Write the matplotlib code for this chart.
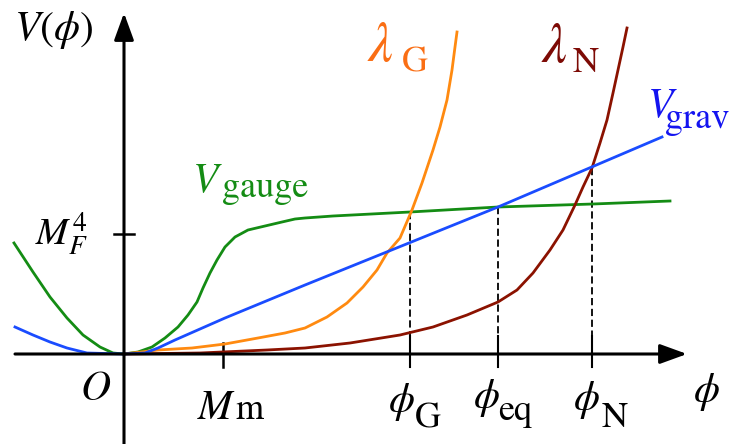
import numpy as np
import matplotlib
matplotlib.use('Agg')
import matplotlib.pyplot as plt

plt.rcParams['mathtext.fontset'] = 'stix'
plt.rcParams['font.family'] = 'STIXGeneral'

# curves (phi, V), arbitrary units
gauge_x = [-110, -91, -74, -57, -41, -24, -11, 0, 14, 28, 41, 54, 64, 73, 79, 86, 93, 101, 111, 124, 141,
           158, 171, 181, 209, 286, 374, 469, 546]
gauge_y = [111, 82, 57, 36, 19, 7, 1, 0, 2, 7, 16, 27, 39, 52, 66, 81, 94, 107, 117, 124, 128,
           132, 135, 136, 138, 142, 147, 150, 153]

grav_x = [-109, -91, -74, -57, -37, 0, 21, 34, 51, 101, 181, 374, 538]
grav_y = [27, 19, 12, 6, 1, 0, 1, 6, 14, 36, 69, 147, 217]

lamG_x = [0, 34, 68, 101, 134, 161, 181, 203, 223, 239, 253, 263, 276, 288, 298, 309, 316, 323, 328, 331, 333]
lamG_y = [0, 4, 6, 10, 16, 21, 26, 37, 51, 67, 84, 101, 116, 144, 171, 204, 227, 254, 284, 307, 322]

lamN_x = [0, 76, 143, 181, 226, 276, 309, 343, 374, 393, 409, 426, 439, 451, 459, 468, 476, 483, 489, 494, 499, 503]
lamN_y = [0, 1, 4, 6, 11, 19, 27, 39, 52, 64, 81, 104, 124, 149, 167, 186, 211, 234, 261, 284, 307, 326]

# special points
phi_pts = [286, 374, 468]
phi_vals = [142, 147, 186]
MF4 = 120
Mm = 99

c_green = '#148c14'
c_blue = '#1a4cff'
c_orange = '#ff8a10'
c_red = '#8b1200'

fig = plt.figure(figsize=(7.3, 4.44), dpi=100)
ax = fig.add_axes([0, 0, 1, 1])
ax.set_xlim(-124, 606)
ax.set_ylim(-90, 354)
ax.axis('off')

# axes with arrows
arr = dict(arrowstyle='-|>,head_length=0.55,head_width=0.2', lw=2.2, color='k',
           mutation_scale=30, shrinkA=0, shrinkB=0)
ax.annotate('', xy=(563, 0), xytext=(-109, 0), arrowprops=arr)
ax.annotate('', xy=(0, 341), xytext=(0, -90), arrowprops=arr)

# ticks
ax.plot([-10, 10], [MF4, MF4], color='k', lw=1.8)
ax.plot([Mm, Mm], [11, -13], color='k', lw=1.8)

# dashed guides
for xp, yp in zip(phi_pts, phi_vals):
    ax.plot([xp, xp], [yp, 18], color='k', lw=1.3, dashes=(4, 2))
    ax.plot([xp, xp], [18, -13], color='k', lw=1.5)

ax.plot(gauge_x, gauge_y, color=c_green, lw=2.0, solid_joinstyle='round')
ax.plot(lamN_x, lamN_y, color=c_red, lw=2.0, solid_joinstyle='round')
ax.plot(lamG_x, lamG_y, color=c_orange, lw=2.0, solid_joinstyle='round')
ax.plot(grav_x, grav_y, color=c_blue, lw=2.0, solid_joinstyle='round')

fs = 30
fsub = 26


def label(base, bx, by, sub, sx, sy, color='k', bsize=fs):
    ax.text(bx, by, base, fontsize=bsize, va='baseline', color=color)
    ax.text(sx, sy, sub, fontsize=fsub, va='baseline', color=color)


ax.text(-110, 314, r'$V(\phi)$', fontsize=fs, va='baseline')
ax.text(-89, 109, r'$M_F^4$', fontsize=28, va='baseline')
label(r'$V$', 68, 162, 'gauge', 98, 157, c_green)
label(r'$\lambda$', 243, 293, 'G', 278, 282, '#fa6e14', bsize=40)
label(r'$\lambda$', 417, 292, 'N', 449, 282, '#7d0a05', bsize=40)
label(r'$V$', 523, 237, 'grav', 541, 226, '#1414f0')
ax.text(-44, -46, r'$O$', fontsize=fs, va='baseline')
label(r'$M$', 73, -65, 'm', 111, -65)
label(r'$\phi$', 264, -58, 'G', 291, -73)
label(r'$\phi$', 349, -54, 'eq', 374, -66)
label(r'$\phi$', 449, -56, 'N', 478, -73)
ax.text(569, -48, r'$\phi$', fontsize=fs, va='baseline')

fig.savefig('out.png', dpi=100)
